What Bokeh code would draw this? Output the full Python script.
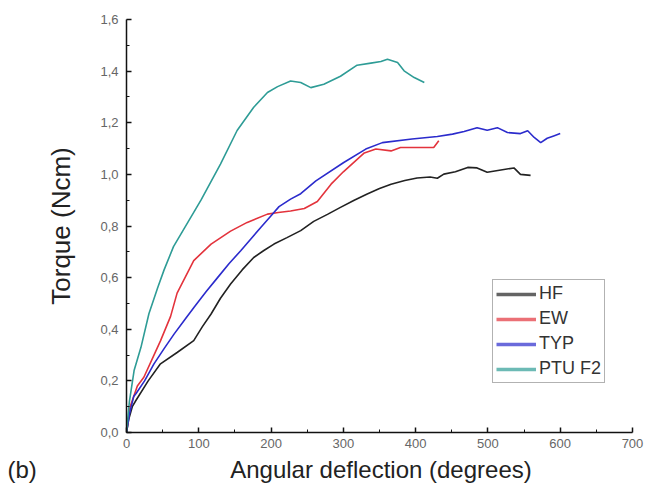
from bokeh.plotting import figure
from bokeh.models import Range1d, FixedTicker, Legend, LegendItem, Title
from bokeh.embed import file_html
from bokeh.resources import INLINE

# ---- data ----
hf_x = [0, 3, 8, 13, 30, 47, 70, 93, 105, 117, 130, 144, 160, 176, 190, 204, 222, 241, 259, 278, 296, 315,
        333, 350, 366, 385, 402, 420, 430, 439, 455, 472, 485, 499, 520, 536, 545, 559]
hf_y = [0, 0.05, 0.1, 0.124, 0.2, 0.266, 0.31, 0.356, 0.41, 0.459, 0.52, 0.575, 0.63, 0.678, 0.705, 0.73, 0.755,
        0.782, 0.818, 0.845, 0.872, 0.9, 0.924, 0.945, 0.962, 0.976, 0.986, 0.99, 0.985, 1.001, 1.01, 1.027,
        1.025, 1.008, 1.018, 1.025, 1.0, 0.996]

ew_x = [0, 5, 15, 24, 38, 47, 61, 70, 93, 117, 144, 167, 195, 210, 227, 246, 264, 283, 300, 329, 345,
        366, 379, 402, 425, 432]
ew_y = [0, 0.1, 0.18, 0.214, 0.3, 0.355, 0.45, 0.54, 0.666, 0.73, 0.78, 0.814, 0.846, 0.852, 0.858, 0.868,
        0.895, 0.962, 1.01, 1.083, 1.098, 1.091, 1.104, 1.104, 1.104, 1.13]

typ_x = [0, 4, 10, 13, 25, 38, 52, 66, 80, 93.5, 110, 126, 142, 158, 172, 186, 200, 211, 227, 241, 262,
         300, 331, 354, 395, 430, 451, 467, 485, 499, 513, 527, 545, 555, 564, 573, 582, 591, 600]
typ_y = [0, 0.07, 0.14, 0.15, 0.2, 0.266, 0.325, 0.382, 0.435, 0.485, 0.545, 0.6, 0.655, 0.704, 0.75,
         0.795, 0.84, 0.875, 0.904, 0.925, 0.975, 1.045, 1.098, 1.123, 1.137, 1.147, 1.156, 1.166, 1.181,
         1.171, 1.181, 1.162, 1.158, 1.169, 1.143, 1.123, 1.140, 1.149, 1.158]

ptu_x = [0, 4, 10.5, 20, 31, 43, 52, 65, 84, 103, 130, 153, 176, 195, 209, 227, 241, 255, 273, 296, 319,
         338, 352, 361, 375, 384, 398, 412]
ptu_y = [0, 0.12, 0.24, 0.33, 0.46, 0.56, 0.63, 0.72, 0.81, 0.9, 1.04, 1.17, 1.26, 1.317, 1.34, 1.362,
         1.356, 1.336, 1.349, 1.38, 1.423, 1.431, 1.437, 1.446, 1.433, 1.401, 1.375, 1.356]

series_names = ["HF", "EW", "TYP", "PTU F2"]
series_colors = ["#222222", "#e3333c", "#2b2bcc", "#2e9c96"]

x_ticks = [0, 100, 200, 300, 400, 500, 600, 700]
x_minor = [50, 150, 250, 350, 450, 550, 650]
y_ticks = [0.0, 0.2, 0.4, 0.6, 0.8, 1.0, 1.2, 1.4, 1.6]
y_minor = [0.1, 0.3, 0.5, 0.7, 0.9, 1.1, 1.3, 1.5]
y_tick_labels = ["0,0", "0,2", "0,4", "0,6", "0,8", "1,0", "1,2", "1,4", "1,6"]
panel_tag = "(b)"
x_label = "Angular deflection (degrees)"
y_label = "Torque (Ncm)"

FONT = "Liberation Sans"
NAN = float("nan")

p = figure(width=648, height=498, output_backend="svg", toolbar_location=None,
           x_range=Range1d(0, 700), y_range=Range1d(0, 1.6),
           min_border_left=126, min_border_right=16, min_border_top=19, min_border_bottom=66)
p.outline_line_color = None
p.grid.grid_line_color = None
p.background_fill_color = "white"
p.border_fill_color = "white"

xs = [hf_x, ew_x, typ_x, ptu_x]
ys = [hf_y, ew_y, typ_y, ptu_y]
items = []
for name, col, x, y in zip(series_names, series_colors, xs, ys):
    p.line(x, y, line_color=col, line_width=1.6)
    dummy = p.line(x=[NAN], y=[NAN], line_color=col, line_width=3.5, line_alpha=0.7)
    items.append(LegendItem(label=name, renderers=[dummy]))

legend = Legend(items=items, location=(366, 49), padding=3, spacing=4, margin=0,
                glyph_width=40, glyph_height=20, label_height=20, label_standoff=3,
                label_text_font=FONT, label_text_font_size="18px", label_text_color="#333333",
                border_line_color="#666666", border_line_width=1.2, background_fill_alpha=1)
p.add_layout(legend, "center")

for ax in (p.xaxis[0], p.yaxis[0]):
    ax.axis_line_width = 1.5
    ax.axis_line_color = "#111111"
    ax.major_tick_in = 5
    ax.major_tick_out = 0
    ax.minor_tick_in = 3
    ax.minor_tick_out = 0
    ax.major_tick_line_color = "#111111"
    ax.minor_tick_line_color = "#111111"
    ax.major_tick_line_width = 1.5
    ax.major_label_text_font = FONT
    ax.major_label_text_font_size = "13px"
    ax.major_label_text_color = "#666666"
    ax.axis_label_text_font = FONT
    ax.axis_label_text_font_style = "normal"
    ax.axis_label_text_color = "#222222"

p.xaxis[0].ticker = FixedTicker(ticks=x_ticks, minor_ticks=x_minor)
p.yaxis[0].ticker = FixedTicker(ticks=y_ticks, minor_ticks=y_minor)
p.yaxis[0].major_label_overrides = {t: l for t, l in zip(y_ticks, y_tick_labels)}
p.yaxis[0].axis_label = y_label
p.yaxis[0].axis_label_text_font_size = "26px"
p.xaxis[0].major_label_standoff = 6
p.yaxis[0].major_label_standoff = 8
p.yaxis[0].axis_label_standoff = 21

# bottom title row: panel tag at far left and the x-axis title, on one baseline
bottom_title = Title(text=panel_tag + "\u00a0" * 29 + x_label, align="left", offset=-119,
                     text_font=FONT, text_font_size="24px", text_font_style="normal",
                     text_color="#222222", standoff=7)
p.add_layout(bottom_title, "below")

open("out.html", "w").write(file_html(p, INLINE))
